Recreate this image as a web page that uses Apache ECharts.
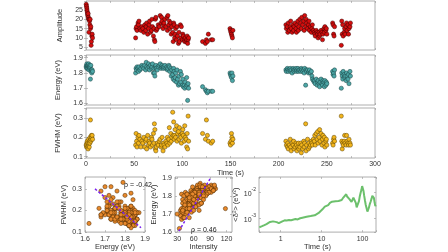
<!DOCTYPE html>
<html>
<head>
<meta charset="utf-8">
<script src="https://cdn.jsdelivr.net/npm/echarts@6/dist/echarts.min.js"></script>
<style>
  html, body { margin: 0; padding: 0; background: #fff; }
  #chart { width: 448px; height: 252px; }
</style>
</head>
<body>
<div id="chart"></div>
<script>
// one row per detected event: time, amplitude, peak energy, FWHM, intensity
const time = [
  0.2, 0.5, 0.8, 1.0, 1.3, 1.6, 1.9, 2.2, 2.5, 2.8, 3.1, 3.4, 3.7, 4.0, 4.3, 4.6, 5.0, 5.3, 5.6, 6.0, 6.4, 6.8,
  51.5, 52, 52.5, 53, 54, 54.5, 55, 56, 57, 58,
  59, 60, 61, 62, 62.5, 63, 64, 65, 65.5, 66, 67, 68, 68.5, 69, 70, 70.5,
  71, 71.5, 72, 72.5, 73, 74, 75, 76, 77, 78, 78.5, 79, 80, 80.5,
  81, 82, 83, 84, 84.5, 85, 86, 86.5, 87, 88, 88.5, 89, 90, 90.5,
  91, 91.5, 92, 92.5, 93, 94, 94.5, 95, 96, 96.5, 97, 98, 98.5, 99, 100, 100.5,
  101, 102, 102.5, 103, 104, 104.5, 105, 105.5, 106, 106.5,
  121, 124, 125, 126, 127, 130, 131.5,
  149.5, 150, 150.5, 151, 151.5, 152, 152.5,
  207.5, 208, 209, 209.5, 210, 211, 212, 212.5, 213, 214, 215, 215.5, 216, 217, 218, 218.5, 219, 220, 220.5, 221,
  222, 223, 223.5, 224, 225, 226, 226.5, 227, 228, 228.5, 229, 230, 231, 231.5, 232, 233, 234, 234.5, 235, 236,
  237, 237.5, 238, 239, 240, 240.5, 241, 242, 242.5, 243, 244, 245, 245.5, 246, 247, 247.5, 248, 249, 249.5, 250,
  256, 256.5, 257, 257.5, 258,
  265, 265.5, 266, 266.5, 267, 268, 268.5, 269, 270, 270.5, 271, 272, 272.5, 273, 274, 274.5
];
const amplitude = [
  28, 27, 26, 25, 24, 23, 22, 23, 21, 20, 13, 20, 19, 17, 20, 15, 16, 6, 8, 11, 12, 10,
  10, 15, 16, 14, 18, 17, 19, 15, 14, 16,
  15, 13, 17, 14, 16, 18, 12, 15, 17, 19, 13, 14, 20, 16, 11, 15,
  9, 8, 20, 21, 14, 15, 17, 16, 22, 18, 21, 19, 15, 17,
  18, 20, 16, 21, 14, 22, 17, 19, 15, 18, 12, 16, 13, 8,
  18, 17, 10, 12, 15, 9, 16, 11, 7, 13, 8, 17, 10, 16, 9, 12,
  11, 9, 8, 10, 8, 9, 11, 7, 9, 10,
  8, 7, 9, 8, 12, 9, 9,
  15, 14, 13, 12, 11, 10, 14,
  17, 15, 16, 13, 18, 14, 16, 19, 15, 13, 17, 14, 16, 18, 15, 13, 17, 19, 14, 16,
  20, 18, 15, 21, 17, 19, 14, 22, 16, 20, 18, 15, 17, 19, 14, 16, 13, 15, 17, 14,
  13, 12, 11, 14, 13, 12, 10, 13, 11, 12, 14, 13, 9, 12, 15, 13, 16, 14, 15, 12,
  18, 17, 12, 11, 16,
  6, 19, 12, 17, 11, 13, 15, 12, 16, 18, 14, 17, 12, 15, 16, 18
];
const energy = [
  1.84, 1.85, 1.83, 1.86, 1.84, 1.85, 1.83, 1.85, 1.84, 1.86, 1.82, 1.84, 1.85, 1.83, 1.84, 1.76, 1.85, 1.81, 1.82, 1.80, 1.82, 1.81,
  1.80, 1.83, 1.82, 1.84, 1.83, 1.81, 1.84, 1.82, 1.83, 1.85,
  1.84, 1.83, 1.85, 1.82, 1.87, 1.84, 1.83, 1.86, 1.84, 1.82, 1.85, 1.83, 1.84, 1.86, 1.80, 1.83,
  1.80, 1.78, 1.84, 1.85, 1.83, 1.82, 1.84, 1.85, 1.86, 1.83, 1.84, 1.85, 1.84, 1.83,
  1.84, 1.85, 1.83, 1.84, 1.82, 1.83, 1.85, 1.84, 1.81, 1.83, 1.78, 1.82, 1.79, 1.76,
  1.83, 1.81, 1.75, 1.77, 1.80, 1.74, 1.82, 1.76, 1.72, 1.78, 1.73, 1.81, 1.74, 1.79, 1.72, 1.76,
  1.71, 1.72, 1.70, 1.74, 1.71, 1.77, 1.72, 1.62, 1.73, 1.70,
  1.71, 1.69, 1.68, 1.67, 1.68, 1.68, 1.68,
  1.80, 1.79, 1.78, 1.77, 1.80, 1.75, 1.78,
  1.82, 1.81, 1.83, 1.82, 1.81, 1.82, 1.83, 1.81, 1.82, 1.80, 1.83, 1.82, 1.81, 1.82, 1.83, 1.81, 1.82, 1.83, 1.81, 1.82,
  1.82, 1.81, 1.83, 1.82, 1.81, 1.82, 1.80, 1.83, 1.72, 1.82, 1.81, 1.82, 1.80, 1.81, 1.82, 1.80, 1.81, 1.78, 1.76, 1.75,
  1.74, 1.75, 1.73, 1.76, 1.72, 1.74, 1.75, 1.73, 1.71, 1.74, 1.76, 1.73, 1.72, 1.75, 1.74, 1.71, 1.75, 1.72, 1.74, 1.73,
  1.81, 1.79, 1.80, 1.78, 1.82,
  1.70, 1.80, 1.78, 1.76, 1.81, 1.79, 1.77, 1.78, 1.75, 1.80, 1.78, 1.76, 1.79, 1.73, 1.81, 1.78
];
const fwhm = [
  0.16, 0.15, 0.17, 0.16, 0.18, 0.15, 0.17, 0.14, 0.16, 0.19, 0.17, 0.15, 0.18, 0.17, 0.20, 0.29, 0.18, 0.19, 0.21, 0.20, 0.21, 0.19,
  0.16, 0.22, 0.18, 0.15, 0.20, 0.17, 0.21, 0.19, 0.15, 0.18,
  0.17, 0.20, 0.15, 0.18, 0.19, 0.14, 0.21, 0.16, 0.18, 0.17, 0.15, 0.20, 0.19, 0.16, 0.22, 0.17,
  0.27, 0.24, 0.14, 0.13, 0.15, 0.17, 0.16, 0.18, 0.19, 0.15, 0.16, 0.20, 0.13, 0.17,
  0.16, 0.15, 0.18, 0.17, 0.20, 0.16, 0.19, 0.25, 0.17, 0.22, 0.18, 0.20, 0.33, 0.21,
  0.28, 0.19, 0.21, 0.24, 0.20, 0.26, 0.18, 0.22, 0.23, 0.19, 0.25, 0.21, 0.20, 0.17, 0.22, 0.24,
  0.21, 0.18, 0.26, 0.20, 0.19, 0.15, 0.22, 0.14, 0.31, 0.18,
  0.22, 0.19, 0.29, 0.21, 0.18, 0.17, 0.18,
  0.17, 0.16, 0.18, 0.22, 0.20, 0.17, 0.19,
  0.18, 0.16, 0.15, 0.17, 0.14, 0.16, 0.19, 0.15, 0.13, 0.17, 0.16, 0.18, 0.14, 0.15, 0.17, 0.16, 0.13, 0.15, 0.17, 0.14,
  0.15, 0.17, 0.12, 0.16, 0.14, 0.18, 0.15, 0.17, 0.27, 0.13, 0.16, 0.19, 0.14, 0.17, 0.15, 0.16, 0.18, 0.17, 0.16, 0.19,
  0.18, 0.21, 0.16, 0.22, 0.19, 0.23, 0.17, 0.20, 0.24, 0.18, 0.22, 0.16, 0.19, 0.21, 0.17, 0.20, 0.15, 0.18, 0.19, 0.16,
  0.17, 0.16, 0.19, 0.20, 0.18,
  0.31, 0.18, 0.14, 0.17, 0.16, 0.18, 0.21, 0.17, 0.16, 0.21, 0.18, 0.17, 0.16, 0.19, 0.17, 0.16
];
const intensity = [
  100, 98, 95, 92, 90, 88, 85, 87, 82, 80, 60, 78, 75, 70, 77, 65, 66, 38, 45, 52, 55, 48,
  48, 70, 72, 66, 80, 76, 84, 68, 64, 73,
  68, 58, 76, 62, 72, 80, 55, 67, 77, 86, 58, 62, 90, 71, 50, 66,
  42, 40, 88, 93, 63, 67, 76, 72, 98, 80, 92, 85, 66, 75,
  80, 88, 72, 92, 63, 96, 76, 84, 66, 80, 55, 70, 58, 40,
  78, 75, 45, 52, 66, 42, 70, 48, 36, 56, 38, 74, 45, 70, 40, 52,
  48, 42, 40, 46, 38, 44, 50, 34, 42, 46,
  40, 36, 42, 38, 52, 41, 43,
  66, 62, 58, 56, 52, 48, 62,
  75, 66, 70, 58, 80, 62, 70, 84, 66, 58, 76, 62, 72, 80, 68, 56, 76, 86, 62, 70,
  88, 80, 66, 92, 76, 84, 62, 96, 70, 88, 80, 66, 75, 84, 62, 71, 58, 66, 74, 60,
  56, 53, 48, 60, 56, 52, 44, 56, 48, 52, 60, 56, 40, 52, 64, 56, 68, 60, 64, 52,
  78, 74, 52, 48, 70,
  30, 82, 52, 74, 48, 56, 64, 52, 70, 78, 60, 74, 52, 118, 70, 78
];

// linear fits drawn in the two correlation panels
const fitFwhmEnergy = [[1.65, 0.30], [1.88, 0.12]];
const fitEnergyIntensity = [[33, 1.605], [91, 1.9]];

// mean squared energy displacement vs lag time
const lagTime = [
  0.3, 0.35, 0.4, 0.45, 0.5, 0.55, 0.6, 0.65, 0.7, 0.8, 0.9, 1.0, 1.1, 1.25, 1.4, 1.6, 1.8, 2.0, 2.3, 2.6,
  3.0, 3.4, 3.8, 4.3, 4.8, 5.4, 6.0, 6.8, 7.6, 8.5, 9.5, 10.5, 12, 13, 14.5, 16, 18, 20, 22, 24,
  26, 28, 31, 34, 37, 40, 42, 44, 46, 48, 51, 54, 57, 60, 63, 66, 69, 72, 75, 78,
  82, 86, 90, 94, 98, 102, 106, 110, 115, 120, 126, 132, 138, 144, 150, 158, 166, 174, 182, 190, 198, 206, 212
];
const msd = [
  4.5e-4, 5.0e-4, 5.5e-4, 6.0e-4, 6.6e-4, 7.2e-4, 7.7e-4, 7.6e-4, 7.4e-4, 7.1e-4, 6.5e-4, 6.8e-4, 7.6e-4, 8.3e-4, 8.2e-4, 8.6e-4, 8.4e-4, 8.8e-4, 9.3e-4, 9.0e-4,
  1.0e-3, 1.05e-3, 1.02e-3, 1.15e-3, 1.12e-3, 1.22e-3, 1.35e-3, 1.3e-3, 1.48e-3, 1.6e-3, 1.85e-3, 2.2e-3, 2.8e-3, 3.3e-3, 3.2e-3, 3.9e-3, 4.3e-3, 4.1e-3, 4.5e-3, 4.8e-3,
  4.6e-3, 5.2e-3, 5.0e-3, 6.2e-3, 5.5e-3, 8.3e-3, 6.8e-3, 7.5e-3, 5.8e-3, 5.4e-3, 4.6e-3, 4.2e-3, 5.0e-3, 6.2e-3, 6.8e-3, 5.4e-3, 3.8e-3, 2.6e-3, 3.1e-3, 2.5e-3,
  4.5e-3, 7.0e-3, 9.5e-3, 1.2e-2, 1.7e-2, 1.85e-2, 1.1e-2, 7.3e-3, 4.8e-3, 3.3e-3, 2.4e-3, 1.8e-3, 1.7e-3, 2.6e-3, 3.4e-3, 4.3e-3, 5.5e-3, 7.2e-3, 8.3e-3, 6.0e-3, 4.0e-3, 2.9e-3, 3.2e-3
];

const font = "Liberation Sans, Arial, Helvetica, sans-serif";
const frameColor = "#999";

const chart = echarts.init(document.getElementById("chart"));

const grids = [
  { left: 86, top: 1, width: 289, height: 49 },
  { left: 86, top: 55, width: 289, height: 50 },
  { left: 86, top: 108, width: 289, height: 50 },
  { left: 85, top: 177, width: 60, height: 60 },
  { left: 175, top: 177, width: 57, height: 60 },
  { left: 259, top: 177, width: 117, height: 60 },
].map((g) => ({ ...g, show: true, borderColor: frameColor, borderWidth: 0.8, backgroundColor: "transparent" }));

const tick = { show: true, inside: true, length: 2, lineStyle: { color: frameColor, width: 0.6 } };
const label = { fontSize: 7, color: "#333", fontFamily: font, margin: 3 };
const nameStyle = { fontSize: 7.5, color: "#333", fontFamily: font };

// bottom/left axis with labels plus a mirrored top/right axis that only carries ticks
function axisPair(gridIndex, dim, cfg) {
  const base = {
    gridIndex,
    type: cfg.type || "value",
    min: cfg.min,
    max: cfg.max,
    interval: cfg.interval,
    splitNumber: cfg.splitNumber,
    logBase: cfg.type === "log" ? 10 : undefined,
    axisLine: { show: false },
    splitLine: { show: false },
    axisTick: tick,
  };
  const main = {
    ...base,
    position: dim === "x" ? "bottom" : "left",
    name: cfg.name,
    nameLocation: "middle",
    nameGap: cfg.nameGap,
    nameTextStyle: nameStyle,
    axisLabel: {
      ...label,
      show: cfg.showLabel !== false,
      formatter: cfg.formatter,
      rich: cfg.rich,
      showMinLabel: cfg.showMinLabel,
      showMaxLabel: cfg.showMaxLabel,
    },
  };
  const mirror = {
    ...base,
    position: dim === "x" ? "top" : "right",
    axisLabel: { show: false },
  };
  return [main, mirror];
}

const timeAxisCfg = { min: 0, max: 300, interval: 25 };
const timeFmt = (v) => (v % 50 === 0 ? String(v) : "");
const isDecade = (v) => Math.abs(Math.log10(v) - Math.round(Math.log10(v))) < 0.01;

const xAxes = [
  ...axisPair(0, "x", { ...timeAxisCfg, showLabel: false }),
  ...axisPair(1, "x", { ...timeAxisCfg, showLabel: false }),
  ...axisPair(2, "x", { ...timeAxisCfg, formatter: timeFmt, name: "Time (s)", nameGap: 10 }),
  ...axisPair(3, "x", { min: 1.6, max: 1.9, splitNumber: 3, name: "Energy (eV)", nameGap: 10 }),
  ...axisPair(4, "x", { min: 26, max: 130, splitNumber: 3, name: "Intensity", nameGap: 10, showMinLabel: false, showMaxLabel: false }),
  ...axisPair(5, "x", {
    type: "log", min: 0.295, max: 214, name: "Time (s)", nameGap: 10,
    formatter: (v) => (isDecade(v) ? String(Math.round(v)) : ""),
  }),
];

const yAxes = [
  ...axisPair(0, "y", { min: 3.5, max: 29.8, splitNumber: 5, name: "Amplitude", nameGap: 14, showMinLabel: false, showMaxLabel: false }),
  ...axisPair(1, "y", { min: 1.59, max: 1.918, splitNumber: 3, name: "Energy (eV)", nameGap: 15, showMinLabel: false, showMaxLabel: false }),
  ...axisPair(2, "y", { min: 0.093, max: 0.352, splitNumber: 3, name: "FWHM (eV)", nameGap: 15, showMinLabel: false, showMaxLabel: false }),
  ...axisPair(3, "y", { min: 0.1, max: 0.355, splitNumber: 3, name: "FWHM (eV)", nameGap: 15, showMaxLabel: false }),
  ...axisPair(4, "y", { min: 1.6, max: 1.905, splitNumber: 3, name: "Energy (eV)", nameGap: 15, showMaxLabel: false }),
  ...axisPair(5, "y", {
    type: "log", min: 2.95e-4, max: 0.038, name: "<δ²> (eV²)", nameGap: 16,
    formatter: (v) => (isDecade(v) ? "{b|10}{sup|" + Math.round(Math.log10(v)) + "}" : ""),
    rich: {
      b: { fontSize: 7, color: "#333", fontFamily: font, lineHeight: 10, verticalAlign: "bottom" },
      sup: { fontSize: 5, color: "#333", fontFamily: font, lineHeight: 10, verticalAlign: "top" },
    },
  }),
];

function scatter(gridIndex, data, fill, edge) {
  return {
    type: "scatter",
    xAxisIndex: gridIndex * 2,
    yAxisIndex: gridIndex * 2,
    data,
    symbol: "circle",
    symbolSize: 4.2,
    itemStyle: { color: fill, borderColor: edge, borderWidth: 0.5, opacity: 1 },
    animation: false,
  };
}

function fitLine(gridIndex, data) {
  return {
    type: "line",
    xAxisIndex: gridIndex * 2,
    yAxisIndex: gridIndex * 2,
    data,
    symbol: "none",
    z: 5,
    lineStyle: { color: "#7b22f0", width: 1.5, type: [2.5, 2] },
    animation: false,
  };
}

const series = [
  scatter(0, time.map((t, i) => [t, amplitude[i]]), "#d40f0f", "#3a0000"),
  scatter(1, time.map((t, i) => [t, energy[i]]), "#4da7a7", "#173f3f"),
  scatter(2, time.map((t, i) => [t, fwhm[i]]), "#f3b51d", "#5a4000"),
  scatter(3, energy.map((e, i) => [e, fwhm[i]]), "#e8892c", "#4a2800"),
  fitLine(3, fitFwhmEnergy),
  scatter(4, intensity.map((v, i) => [v, energy[i]]), "#e8892c", "#4a2800"),
  fitLine(4, fitEnergyIntensity),
  {
    type: "line",
    xAxisIndex: 10,
    yAxisIndex: 10,
    data: lagTime.map((t, i) => [t, msd[i]]),
    symbol: "none",
    lineStyle: { color: "#6cc06c", width: 2 },
    animation: false,
  },
];

const noteStyle = { fontSize: 7, fontWeight: "normal", color: "#222", fontFamily: font };

chart.setOption({
  backgroundColor: "#fff",
  animation: false,
  title: [
    { text: "ρ = -0.42", left: 124, top: 182, padding: 0, textStyle: noteStyle },
    { text: "ρ = 0.46", left: 191, top: 227, padding: 0, textStyle: noteStyle },
  ],
  grid: grids,
  xAxis: xAxes,
  yAxis: yAxes,
  series,
});
</script>
</body>
</html>
